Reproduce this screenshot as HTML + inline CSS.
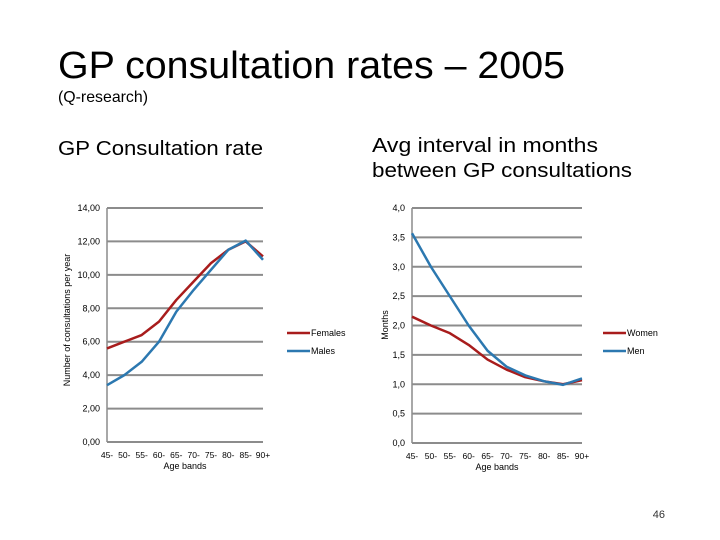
<!DOCTYPE html>
<html><head><meta charset="utf-8"><style>
body{margin:0;background:#fff}
svg{display:block;font-family:"Liberation Sans",sans-serif}
</style></head><body>
<svg id="s" width="720" height="540" viewBox="0 0 720 540">
<text x="58" y="78" font-size="38" textLength="507" lengthAdjust="spacingAndGlyphs" fill="#000">GP consultation rates – 2005</text>
<text x="58" y="102" font-size="16" textLength="90" lengthAdjust="spacingAndGlyphs">(Q-research)</text>
<text x="58" y="155" font-size="20" textLength="205" lengthAdjust="spacingAndGlyphs">GP Consultation rate</text>
<text x="372" y="152" font-size="20" textLength="226" lengthAdjust="spacingAndGlyphs">Avg interval in months</text>
<text x="372" y="177" font-size="20" textLength="260" lengthAdjust="spacingAndGlyphs">between GP consultations</text>
<text x="665" y="518" font-size="11" text-anchor="end" fill="#333">46</text>
<g id="left"></g>
<g id="right"></g>
</svg>
<script>
const categories=["45-","50-","55-","60-","65-","70-","75-","80-","85-","90+"];
const femalesRate=[5.6,6.0,6.4,7.2,8.5,9.6,10.7,11.5,12.0,11.1];
const malesRate=[3.4,4.0,4.8,6.0,7.8,9.1,10.3,11.5,12.05,10.9];
const leftTicks=[0,2,4,6,8,10,12,14];
const leftTickLabels=["0,00","2,00","4,00","6,00","8,00","10,00","12,00","14,00"];
const womenInterval=[2.15,2.0,1.87,1.67,1.42,1.25,1.12,1.05,1.0,1.07];
const menInterval=[3.57,3.0,2.5,2.0,1.57,1.3,1.15,1.05,0.99,1.1];
const rightTicks=[0,0.5,1,1.5,2,2.5,3,3.5,4];
const rightTickLabels=["0,0","0,5","1,0","1,5","2,0","2,5","3,0","3,5","4,0"];
const NS="http://www.w3.org/2000/svg";
function mk(g,tag,attrs,txt){const e=document.createElementNS(NS,tag);for(const k in attrs)e.setAttribute(k,attrs[k]);if(txt!==undefined)e.textContent=txt;g.appendChild(e);return e;}
function chart(g,o){
  const xs=i=>o.x0+(o.x1-o.x0)*i/(categories.length-1);
  const ys=v=>o.y0-(o.y0-o.y1)*v/o.max;
  o.ticks.forEach((t,i)=>{
    const l=mk(g,'line',{x1:o.x0,x2:o.x1,y1:ys(t),y2:ys(t),stroke:'#8c8c8c','stroke-width':2});
    
    
    const tx=mk(g,'text',{x:o.x0-7,y:ys(t)+3,'font-size':9,'text-anchor':'end'},o.labels[i]);
    
    
  });
  const ax=mk(g,'line',{x1:o.x0,x2:o.x0,y1:o.y1,y2:o.y0,stroke:'#8c8c8c','stroke-width':1.5});
  
  
  categories.forEach((c,i)=>{
    const t=mk(g,'text',{x:xs(i),y:o.y0+16,'font-size':8.5,'text-anchor':'middle'},c);
    
    
  });
  const xt=mk(g,'text',{x:(o.x0+o.x1)/2,y:o.y0+27,'font-size':9,'text-anchor':'middle'},'Age bands');
  
  
  const yt=mk(g,'text',{x:0,y:0,'font-size':9,'text-anchor':'middle',transform:`translate(${o.ytx},${o.yty}) rotate(-90)`},o.ytitle);
  
  
  o.series.forEach((s,k)=>{
    const p=mk(g,'polyline',{points:s.data.map((v,i)=>xs(i)+','+ys(v)).join(' '),fill:'none',stroke:s.color,'stroke-width':2.5,'stroke-linejoin':'round'});
    
    
    const ly=o.legY+k*18;
    const ll=mk(g,'line',{x1:o.legX,x2:o.legX+23,y1:ly,y2:ly,stroke:s.color,'stroke-width':2.5});
    
    
    const lt=mk(g,'text',{x:o.legX+24,y:ly+3,'font-size':9},s.label);
    
    
  });
}
chart(document.getElementById('left'),{x0:107,x1:263,y0:442,y1:208,max:14,ticks:leftTicks,labels:leftTickLabels,ytitle:'Number of consultations per year',ytx:70,yty:320,legX:287,legY:333,
 series:[{name:'females',label:'Females',data:femalesRate,color:'#a81c1c'},{name:'males',label:'Males',data:malesRate,color:'#2c78b0'}]});
chart(document.getElementById('right'),{x0:412,x1:582,y0:443,y1:208,max:4,ticks:rightTicks,labels:rightTickLabels,ytitle:'Months',ytx:388,yty:325,legX:603,legY:333,
 series:[{name:'women',label:'Women',data:womenInterval,color:'#a81c1c'},{name:'men',label:'Men',data:menInterval,color:'#2c78b0'}]});
</script>
</body></html>
